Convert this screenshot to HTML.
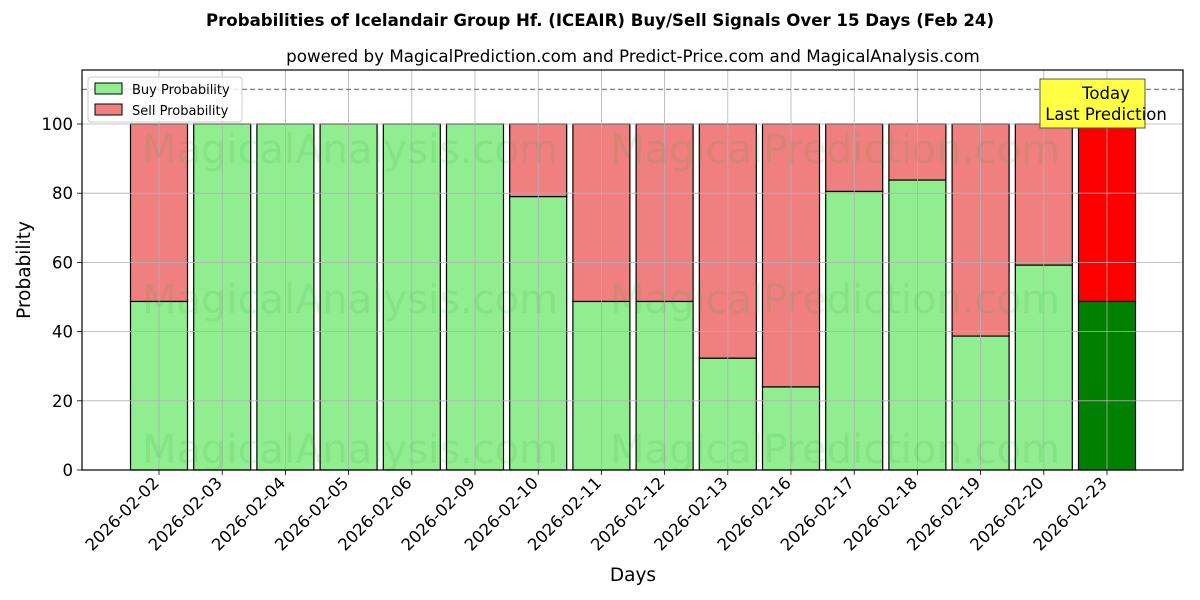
<!DOCTYPE html>
<html><head><meta charset="utf-8"><style>body{margin:0;background:#fff}svg{display:block;font-family:"DejaVu Sans","Liberation Sans",sans-serif}</style></head><body>
<svg width="1200" height="600" viewBox="0 0 1200 600">
<text x="600" y="26" text-anchor="middle" font-size="16.6" font-weight="bold">Probabilities of Icelandair Group Hf. (ICEAIR) Buy/Sell Signals Over 15 Days (Feb 24)</text>
<text x="633" y="62" text-anchor="middle" font-size="16.7">powered by MagicalPrediction.com and Predict-Price.com and MagicalAnalysis.com</text>
<g id="bars" stroke="#000" stroke-width="1.2"></g>
<g id="grid" stroke="#b0b0b0" stroke-width="0.8"></g>
<line x1="82" x2="1183" y1="89.4" y2="89.4" stroke="#808080" stroke-width="1.2" stroke-dasharray="5,3"/>
<g font-size="40" fill="#2ca02c" fill-opacity="0.13" text-anchor="middle">
<text x="350" y="163">MagicalAnalysis.com</text><text x="835" y="163">MagicalPrediction.com</text>
<text x="350" y="313">MagicalAnalysis.com</text><text x="835" y="313">MagicalPrediction.com</text>
<text x="350" y="463">MagicalAnalysis.com</text><text x="835" y="463">MagicalPrediction.com</text>
</g>
<rect x="82" y="70" width="1101" height="400" fill="none" stroke="#000" stroke-width="1.2"/>
<g id="yt" font-size="16.5" text-anchor="end"></g>
<g id="xt" font-size="16.5" text-anchor="end"></g>
<text x="30" y="270" font-size="18.5" text-anchor="middle" transform="rotate(-90 30 270)">Probability</text>
<text x="633" y="581" font-size="18.5" text-anchor="middle">Days</text>
<rect x="88" y="77" width="154" height="45" fill="#fff" fill-opacity="0.8" stroke="#ccc" rx="3"/>
<rect x="95" y="83" width="27" height="11" fill="#90ee90" stroke="#000"/>
<text x="132" y="94" font-size="13">Buy Probability</text>
<rect x="95" y="104" width="27" height="11" fill="#f08080" stroke="#000"/>
<text x="132" y="115" font-size="13">Sell Probability</text>
<rect x="1040" y="79" width="105" height="49" fill="#ffff44" stroke="#555"/>
<text x="1106" y="99" font-size="16.5" text-anchor="middle">Today</text>
<text x="1106" y="120" font-size="16.5" text-anchor="middle">Last Prediction</text>
</svg>
<script>
const d=["2026-02-02","2026-02-03","2026-02-04","2026-02-05","2026-02-06","2026-02-09","2026-02-10","2026-02-11","2026-02-12","2026-02-13","2026-02-16","2026-02-17","2026-02-18","2026-02-19","2026-02-20","2026-02-23"];
const v=[48.7,100,100,100,100,100,79,48.7,48.7,32.3,24,80.5,83.8,38.7,59.2,48.7];
const ns="http://www.w3.org/2000/svg";
function el(p,t,a,tx){const e=document.createElementNS(ns,t);for(const k in a)e.setAttribute(k,a[k]);if(tx!==undefined)e.textContent=String(tx);document.getElementById(p).appendChild(e);}
const Y=x=>470-x*3.46;
d.forEach((s,i)=>{const c=159+i*63.2,l=c-28.5,last=i==15;
el("bars","rect",{x:l,y:Y(100),width:57,height:Y(v[i])-Y(100),fill:last?"#ff0000":"#f08080"});
el("bars","rect",{x:l,y:Y(v[i]),width:57,height:470-Y(v[i]),fill:last?"#008000":"#90ee90"});
el("grid","line",{x1:c,x2:c,y1:70,y2:470});
el("grid","line",{x1:c,x2:c,y1:470,y2:475,stroke:"#000"});
el("xt","text",{x:c+1,y:484,transform:`rotate(-45 ${c+1} 484)`},s);});
for(let t=0;t<=100;t+=20){el("grid","line",{x1:82,x2:1183,y1:Y(t),y2:Y(t)});el("grid","line",{x1:77,x2:82,y1:Y(t),y2:Y(t),stroke:"#000"});el("yt","text",{x:73,y:Y(t)+6},t);}
</script>
</body></html>
